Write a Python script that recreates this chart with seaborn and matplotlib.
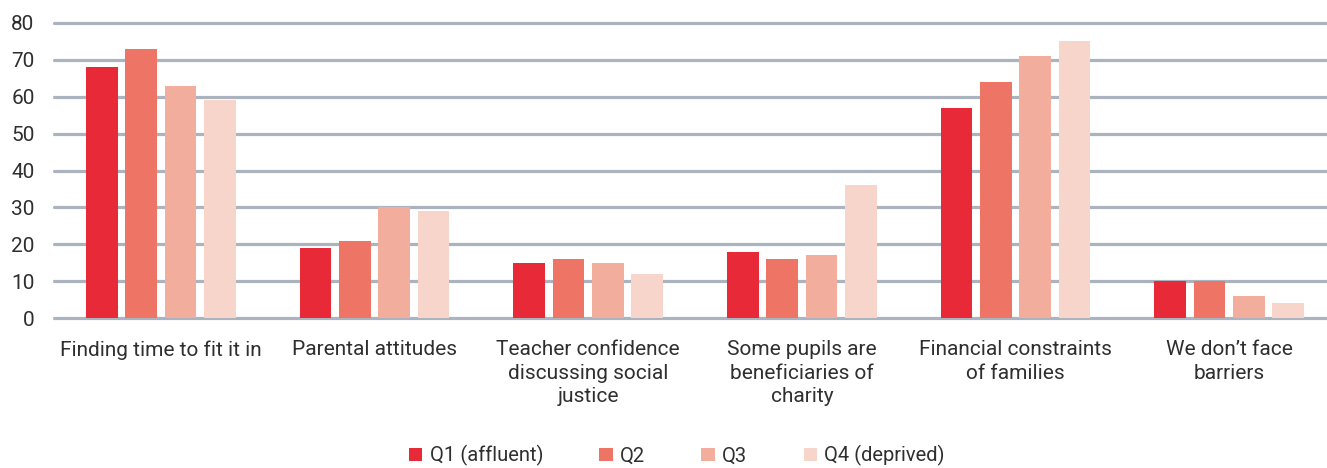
import matplotlib
matplotlib.use("Agg")
import matplotlib.pyplot as plt
import seaborn as sns
import pandas as pd
from matplotlib.patches import Patch

categories = ["Finding time to fit it in", "Parental attitudes",
              "Teacher confidence\ndiscussing social\njustice",
              "Some pupils are\nbeneficiaries of\ncharity",
              "Financial constraints\nof families",
              "We don\u2019t face\nbarriers"]
series = ["Q1 (affluent)", "Q2", "Q3", "Q4 (deprived)"]
q1 = [68, 19, 15, 18, 57, 10]
q2 = [73, 21, 16, 16, 64, 10]
q3 = [63, 30, 15, 17, 71, 6]
q4 = [59, 29, 12, 36, 75, 4]
colors = ["#E82937", "#EE7565", "#F2AD9C", "#F8D5CA"]

rows = []
for s, vals in zip(series, [q1, q2, q3, q4]):
    for c, v in zip(categories, vals):
        rows.append({"category": c, "series": s, "value": v})
df = pd.DataFrame(rows)

sns.set_style("white")
plt.rcParams["font.family"] = ["Roboto", "DejaVu Sans"]
text_color = "#2f2f2f"

fig = plt.figure(figsize=(13.27, 4.68), dpi=100)
ax = fig.add_axes([54/1327, 1-318/468, (1336-54)/1327, (318-23)/468])

sns.barplot(data=df, x="category", y="value", hue="series", palette=colors,
            order=categories, hue_order=series, width=0.736, gap=0.2,
            saturation=1, legend=False, ax=ax, zorder=3,
            linewidth=0, edgecolor="none")

ax.set_ylim(0, 80)
ax.set_yticks(range(0, 81, 10))
ax.set_xlim(-0.5, 5.5)
for y in range(0, 81, 10):
    ax.axhline(y, color="#ABB3BE", lw=2.3, zorder=1, clip_on=False)
for sp in ax.spines.values():
    sp.set_visible(False)
ax.set_xlabel("")
ax.set_ylabel("")
ax.tick_params(axis="both", length=0, colors=text_color)
ax.tick_params(axis="y", pad=14, labelsize=15)
ax.tick_params(axis="x", pad=16, labelsize=15)
for lab in ax.get_yticklabels():
    lab.set_color(text_color)
for lab in ax.get_xticklabels():
    lab.set_color(text_color)
    lab.set_linespacing(1.3)

handles = [Patch(facecolor=c, edgecolor="none") for c in colors]
leg = fig.legend(handles, series, loc="lower center", ncol=4, frameon=False,
                 bbox_to_anchor=(0.51, -0.035), fontsize=14.5, handlelength=0.67,
                 handleheight=0.67, handletextpad=0.35, columnspacing=2.8,
                 labelcolor=text_color)

fig.savefig("out.png", dpi=100)
